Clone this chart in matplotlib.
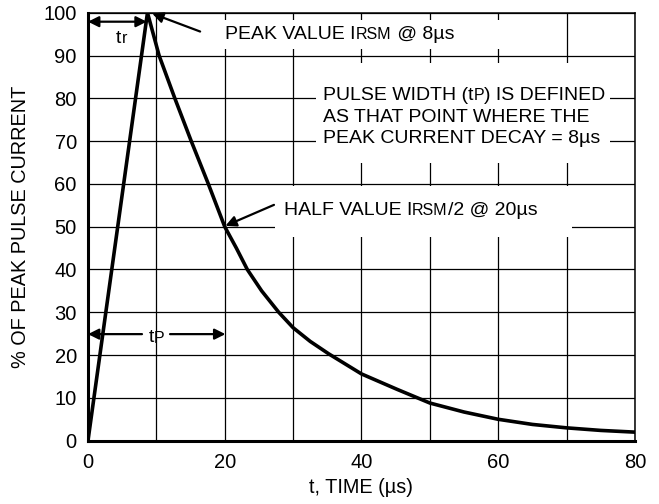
import matplotlib
matplotlib.use('Agg')
import matplotlib.pyplot as plt
from matplotlib.patches import Rectangle
from matplotlib.offsetbox import TextArea, HPacker, VPacker, AnnotationBbox

plt.rcParams['font.family'] = ['Liberation Sans', 'DejaVu Sans']

# pulse waveform (time in us, % of peak)
t_us = [0, 8.7, 10.4, 12.7, 15.1, 17.6, 20.0, 21.7, 23.3, 25.4, 27.9, 30.0,
        32.5, 35.2, 40.0, 45.2, 50.0, 55.0, 60.0, 65.0, 70.0, 75.0, 80.0]
pct = [0, 100, 90, 80, 70, 60, 50, 45, 40, 35, 30, 26.4,
       23.2, 20.3, 15.6, 12.0, 8.8, 6.7, 5.0, 3.8, 3.0, 2.4, 2.0]

x_ticks = [0, 20, 40, 60, 80]
y_ticks = [0, 10, 20, 30, 40, 50, 60, 70, 80, 90, 100]
grid_x = [0, 10, 20, 30, 40, 50, 60, 70, 80]

FS = 14
SMALL = 11.5


def rich(parts):
    boxes = [TextArea(s, textprops=dict(fontsize=f, color='black')) for s, f in parts]
    return HPacker(children=boxes, align='baseline', pad=0, sep=0)


def place(ax, packer, x, y, align=(0, 0.5)):
    ab = AnnotationBbox(packer, (x, y), xycoords='data', frameon=False,
                        box_alignment=align, pad=0, zorder=5)
    ax.add_artist(ab)


fig = plt.figure(figsize=(6.59, 5.04), dpi=100)
ax = fig.add_axes([0.1335, 0.1256, 0.8301, 0.8492])

ax.set_xlim(0, 80)
ax.set_ylim(0, 100)
ax.set_xticks(x_ticks)
ax.set_xticks(grid_x, minor=True)
ax.set_yticks(y_ticks)
ax.set_axisbelow(True)
ax.grid(True, which='both', color='black', lw=0.9)
ax.tick_params(which='both', length=0, labelsize=14.5)
ax.tick_params(axis='x', pad=9)
ax.tick_params(axis='y', pad=8)

for side in ['left', 'bottom']:
    ax.spines[side].set_linewidth(2.2)
for side in ['top', 'right']:
    ax.spines[side].set_linewidth(1.1)

ax.set_xlabel('t, TIME (µs)', fontsize=14.3, labelpad=4)
ax.set_ylabel('% OF PEAK PULSE CURRENT', fontsize=14.3, labelpad=10)

# white patches behind the annotations (hide the grid)
ax.add_patch(Rectangle((19.3, 91.5), 46, 6.8, facecolor='white', edgecolor='none', zorder=1))
ax.add_patch(Rectangle((33.3, 64.9), 43, 23.3, facecolor='white', edgecolor='none', zorder=1))
ax.add_patch(Rectangle((27.4, 47.7), 43.4, 11.8, facecolor='white', edgecolor='none', zorder=1))

ax.plot(t_us, pct, color='black', lw=2.6, solid_joinstyle='round', zorder=3)

arrow = dict(arrowstyle='-|>', color='black', lw=1.6, mutation_scale=16, shrinkA=0, shrinkB=0)
darrow = dict(arrowstyle='<|-|>', color='black', lw=1.6, mutation_scale=16, shrinkA=0, shrinkB=0)

# peak value
ax.annotate('', xy=(9.4, 99.8), xytext=(16.4, 95.6), arrowprops=arrow, zorder=4)
place(ax, rich([('PEAK VALUE I', FS), ('RSM', SMALL), (' @ 8µs', FS)]), 20.1, 94.9)

# rise time
ax.annotate('', xy=(0, 97.9), xytext=(8.6, 97.9), arrowprops=darrow, zorder=4)
place(ax, rich([('t', FS), ('r', SMALL)]), 4.9, 94.0, align=(0.5, 0.5))

# pulse width definition
lines = VPacker(children=[
    rich([('PULSE WIDTH (t', FS), ('P', SMALL), (') IS DEFINED', FS)]),
    rich([('AS THAT POINT WHERE THE', FS)]),
    rich([('PEAK CURRENT DECAY = 8µs', FS)]),
], align='left', pad=0, sep=3)
place(ax, lines, 34.4, 75.6)

# half value
ax.annotate('', xy=(20.1, 50.2), xytext=(27.2, 55.1), arrowprops=arrow, zorder=4)
place(ax, rich([('HALF VALUE I', FS), ('RSM', SMALL), ('/2 @ 20µs', FS)]), 28.6, 53.7)

# pulse width arrows
ax.annotate('', xy=(0, 24.9), xytext=(7.9, 24.9), arrowprops=arrow, zorder=4)
ax.annotate('', xy=(20.1, 24.9), xytext=(12.0, 24.9), arrowprops=arrow, zorder=4)
tp = TextArea('t', textprops=dict(fontsize=FS))
tp_sub = TextArea('P', textprops=dict(fontsize=SMALL))
place(ax, HPacker(children=[tp, tp_sub], align='bottom', pad=0, sep=0), 10.0, 24.0, align=(0.5, 0.5))

fig.savefig('out.png', dpi=100)
